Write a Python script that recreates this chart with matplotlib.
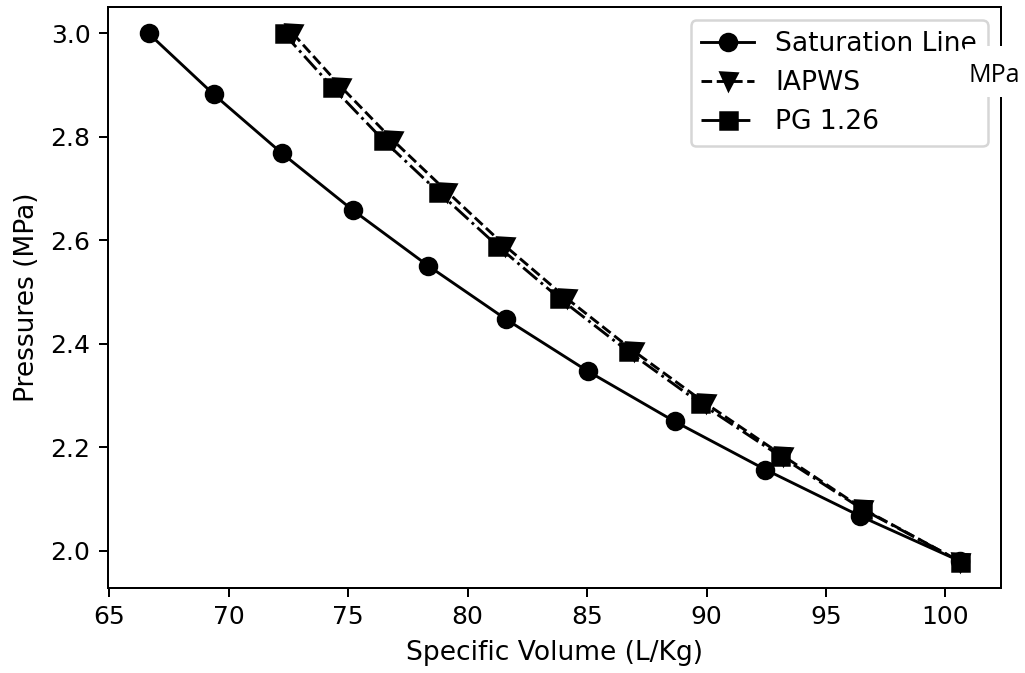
import matplotlib
matplotlib.use("Agg")
import matplotlib.pyplot as plt
from matplotlib.patches import Rectangle

# saturation line
sat_v = [66.64, 69.37, 72.23, 75.20, 78.34, 81.62, 85.03, 88.66, 92.46, 96.43, 100.61]
sat_p = [3.000, 2.882, 2.768, 2.658, 2.551, 2.447, 2.347, 2.250, 2.157, 2.067, 1.980]

# IAPWS
iapws_v = [72.68, 74.69, 76.86, 79.14, 81.55, 84.14, 86.95, 89.96, 93.22, 96.55, 100.63]
iapws_p = [3.000, 2.897, 2.794, 2.694, 2.590, 2.488, 2.386, 2.285, 2.183, 2.081, 1.979]

# PG 1.26
pg_v = [72.30, 74.32, 76.46, 78.76, 81.23, 83.84, 86.70, 89.74, 93.08, 96.50, 100.63]
pg_p = [3.000, 2.897, 2.794, 2.694, 2.590, 2.488, 2.386, 2.285, 2.183, 2.081, 1.979]

fig = plt.figure(figsize=(1025 / 180, 673 / 180), dpi=180)
ax = fig.add_axes([108 / 1025, 85 / 673, 893 / 1025, 581 / 673])

lw = 1.15
ms = 6.8
ax.plot(sat_v, sat_p, '-o', color='k', lw=lw, ms=ms, label='Saturation Line')
ax.plot(iapws_v, iapws_p, '--v', color='k', lw=lw, ms=ms, label='IAPWS')
ax.plot(pg_v, pg_p, '-.s', color='k', lw=lw, ms=ms, label='PG 1.26')

ax.set_xlabel('Specific Volume (L/Kg)', fontsize=10.6)
ax.set_ylabel('Pressures (MPa)', fontsize=10.6)
ax.legend(loc='upper right', fontsize=10.6)

# pasted-on unit label covering part of the frame
fig.patches.append(Rectangle((965 / 1025, 1 - 97 / 673), 60 / 1025, 51 / 673,
                             transform=fig.transFigure, facecolor='white',
                             edgecolor='none', zorder=5))
fig.text(994 / 1025, 1 - 76 / 673, 'MPa', ha='center', va='center',
         fontsize=10, family=['Open Sans', 'DejaVu Sans'], zorder=6)

fig.savefig('out.png', dpi=180)
